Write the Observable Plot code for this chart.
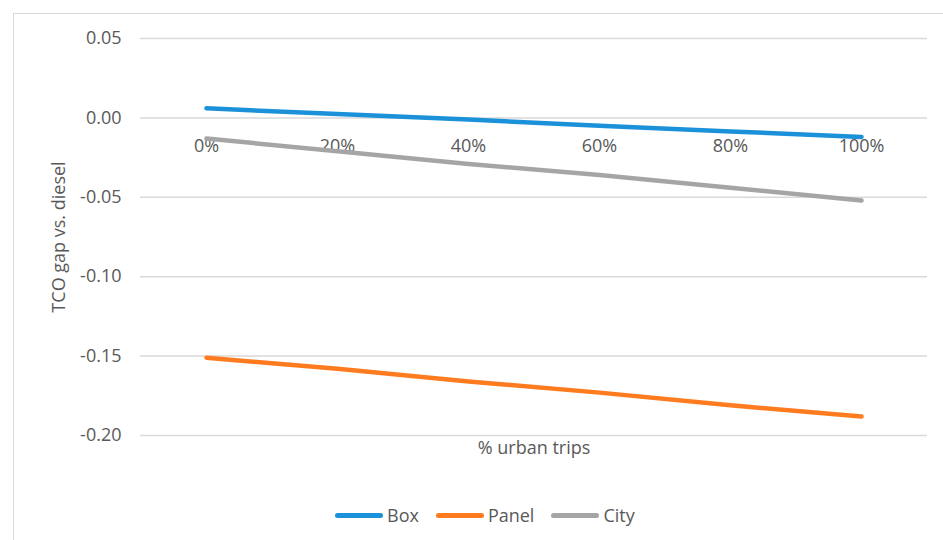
<!DOCTYPE html>
<html>
<head>
<meta charset="utf-8">
<script src="https://cdn.jsdelivr.net/npm/d3@7"></script>
<script src="https://cdn.jsdelivr.net/npm/@observablehq/plot@0.6"></script>
<style>
  html, body { margin: 0; padding: 0; background: #fff; overflow: hidden; }
  body { width: 943px; height: 540px; position: relative; font-family: "Open Sans", sans-serif; }
  #frame {
    position: absolute; left: 13px; top: 13px; width: 960px; height: 560px;
    border-left: 1.5px solid #d9d9d9; border-top: 1.5px solid #d9d9d9;
  }
  #chart { position: absolute; left: 0; top: 0; }
  #legend {
    position: absolute; left: 335px; top: 502px; height: 26px;
    display: flex; align-items: center; font-size: 18px; color: #595959;
  }
  .item { display: flex; align-items: center; margin-right: 17px; }
  .swatch { width: 48px; height: 5px; border-radius: 3px; margin-right: 4px; }
</style>
</head>
<body>
<div id="frame"></div>
<div id="chart"></div>
<div id="legend"></div>
<script>
// Share of urban trips (category axis)
const categories = ["0%", "20%", "40%", "60%", "80%", "100%"];
// TCO gap vs. diesel for each vehicle type
const box   = [0.006, 0.0025, -0.001, -0.005, -0.0085, -0.012];
const panel = [-0.151, -0.158, -0.166, -0.173, -0.181, -0.188];
const city  = [-0.013, -0.021, -0.029, -0.036, -0.044, -0.052];
const seriesNames = ["Box", "Panel", "City"];
const yTicks = [0.05, 0, -0.05, -0.10, -0.15, -0.20];

const seriesValues = [box, panel, city];
const rows = seriesNames.flatMap((name, i) =>
  categories.map((c, j) => ({series: name, share: c, gap: seriesValues[i][j]}))
);
const colors = ["#1a91d8", "#fe7b1f", "#a5a5a5"];
const textColor = "#595959";

const plot = Plot.plot({
  width: 943,
  height: 480,
  marginLeft: 140,
  marginRight: 16,
  marginTop: 38,
  marginBottom: 45,
  style: {fontFamily: "Open Sans, sans-serif", fontSize: "18px", color: textColor, background: "transparent"},
  x: {type: "point", domain: categories, padding: 0.5, axis: null},
  y: {domain: [-0.20, 0.05], axis: null},
  color: {domain: seriesNames, range: colors},
  marks: [
    Plot.ruleY(yTicks, {stroke: "#d9d9d9", strokeWidth: 1.5}),
    Plot.axisY({
      ticks: yTicks, tickSize: 0, tickPadding: 19,
      tickFormat: d => d.toFixed(2),
      label: "TCO gap vs. diesel", labelAnchor: "center", labelArrow: "none", labelOffset: 88,
      fill: textColor, fontSize: 18
    }),
    // category labels sit just below the zero line
    Plot.text(categories, {x: d => d, y: () => 0, dy: 28, fill: textColor, fontSize: 18}),
    Plot.text(["% urban trips"], {frameAnchor: "bottom", dy: 18, fill: textColor, fontSize: 18}),
    Plot.line(rows, {x: "share", y: "gap", z: "series", stroke: "series", strokeWidth: 4.5, strokeLinecap: "round", strokeLinejoin: "round"})
  ]
});
document.getElementById("chart").appendChild(plot);

// Legend below the chart
const legend = d3.select("#legend");
seriesNames.forEach((name, i) => {
  const item = legend.append("div").attr("class", "item");
  item.append("div").attr("class", "swatch").style("background", colors[i]);
  item.append("span").text(name);
});
</script>
</body>
</html>
